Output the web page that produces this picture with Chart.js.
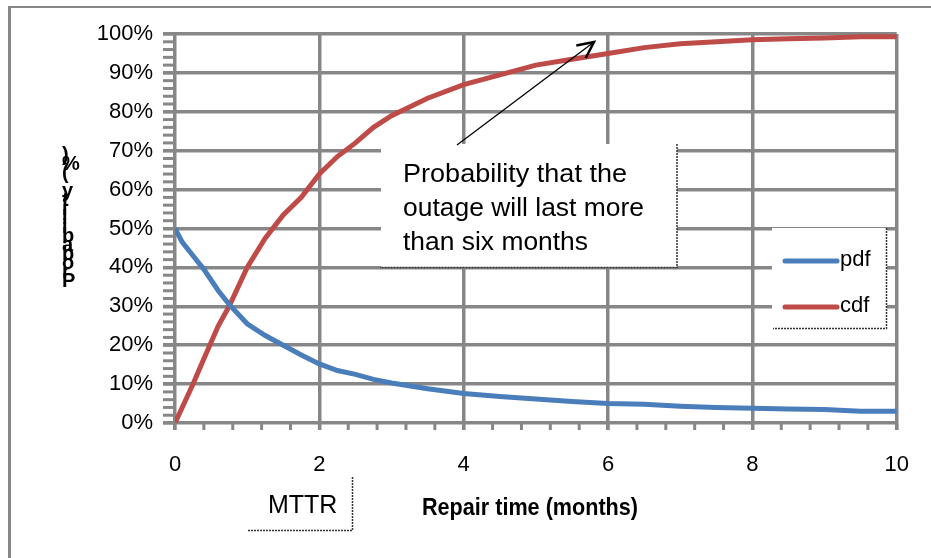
<!DOCTYPE html>
<html>
<head>
<meta charset="utf-8">
<script src="https://cdn.jsdelivr.net/npm/chart.js@4.4.1/dist/chart.umd.min.js"></script>
<style>
  html, body { margin: 0; padding: 0; background: #fff; }
  #wrap { width: 931px; height: 558px; }
</style>
</head>
<body>
<div id="wrap"><canvas id="myChart" width="931" height="558"></canvas></div>
<script>
// repair time in months, and the two curves (percent)
var months    = [0, 0.1, 0.25, 0.4, 0.6, 0.75, 1, 1.25, 1.5, 1.75, 2, 2.25, 2.5, 2.75, 3, 3.5, 4, 4.5, 5, 5.5, 6, 6.5, 7, 7.5, 8, 8.5, 9, 9.5, 10];
var pdfValues = [50, 46.5, 43, 39.5, 34, 30.5, 25.5, 22.5, 20, 17.5, 15.2, 13.5, 12.5, 11.2, 10.3, 8.8, 7.6, 6.8, 6.2, 5.5, 5.0, 4.8, 4.3, 4.0, 3.8, 3.6, 3.5, 3.0, 3.0];
var cdfValues = [0, 4, 10, 16.5, 25, 30, 40, 47.5, 53.5, 58, 64, 68.5, 72, 76, 79, 83.5, 87, 89.5, 92, 93.5, 95, 96.5, 97.5, 98, 98.5, 98.8, 99, 99.3, 99.3];
var seriesNames = ["pdf", "cdf"];
var noteLines = ["Probability that the", "outage will last more", "than six months"];
var yTitle = "Probability (%)";
var xTitle = "Repair time (months)";
var mttrText = "MTTR";

var FONT = "'Liberation Sans', Arial, sans-serif";
var GRID = "#878787";

function points(vals) {
  return months.map(function (m, i) { return { x: m, y: vals[i] }; });
}

// everything that is not a data mark: frame, minor ticks, text boxes, legend, titles
var extras = {
  id: 'extras',
  beforeDraw: function (chart) {
    var c = chart.ctx;
    c.save();
    c.strokeStyle = GRID;
    c.lineWidth = 3;
    c.beginPath(); c.moveTo(9.5, 6); c.lineTo(9.5, 558); c.stroke();
    c.lineWidth = 2;
    c.beginPath(); c.moveTo(8, 7); c.lineTo(931, 7); c.stroke();
    c.restore();
  },
  afterDatasetsDraw: function (chart) {
    var c = chart.ctx;
    var xs = chart.scales.x, ys = chart.scales.y;
    var a = chart.chartArea;
    c.save();

    // minor ticks
    c.strokeStyle = GRID;
    c.lineWidth = 3;
    for (var v = 0; v <= 100; v += 2) {
      var py = ys.getPixelForValue(v);
      c.beginPath(); c.moveTo(a.left - 12, py); c.lineTo(a.left, py); c.stroke();
    }
    for (var m = 0; m <= 10.001; m += 0.4) {
      var px = xs.getPixelForValue(m);
      c.beginPath(); c.moveTo(px, a.bottom); c.lineTo(px, a.bottom + 7); c.stroke();
    }

    // note box
    c.fillStyle = '#fff';
    c.fillRect(381, 144, 296, 123);
    c.strokeStyle = '#333';
    c.lineWidth = 1.5;
    c.setLineDash([2, 1]);
    c.beginPath(); c.moveTo(677, 144); c.lineTo(677, 267.5); c.lineTo(380, 267.5); c.stroke();
    c.setLineDash([]);
    c.fillStyle = '#000';
    c.font = '26px ' + FONT;
    c.textBaseline = 'alphabetic';
    c.textAlign = 'left';
    var targetW = [224, 241, 185];
    var baseY = [182, 216, 250];
    noteLines.forEach(function (t, i) {
      var w = c.measureText(t).width;
      c.save();
      c.translate(403, baseY[i]);
      c.scale(targetW[i] / w, 1);
      c.fillText(t, 0, 0);
      c.restore();
    });

    // arrow
    var x0 = 457, y0 = 145, x1 = 594, y1 = 42;
    c.strokeStyle = '#000';
    c.lineWidth = 1.3;
    c.beginPath(); c.moveTo(x0, y0); c.lineTo(x1, y1); c.stroke();
    var ang = Math.atan2(y1 - y0, x1 - x0);
    c.lineWidth = 2.5;
    c.beginPath();
    c.moveTo(x1 - 18 * Math.cos(ang - 0.45), y1 - 18 * Math.sin(ang - 0.45));
    c.lineTo(x1, y1);
    c.lineTo(x1 - 18 * Math.cos(ang + 0.45), y1 - 18 * Math.sin(ang + 0.45));
    c.stroke();

    // legend
    c.fillStyle = '#fff';
    c.fillRect(772, 228, 115, 100);
    c.strokeStyle = '#333';
    c.lineWidth = 1.5;
    c.setLineDash([2, 1]);
    c.beginPath(); c.moveTo(886.5, 228); c.lineTo(886.5, 328.5); c.lineTo(773, 328.5); c.stroke();
    c.setLineDash([]);
    c.font = '22px ' + FONT;
    c.textBaseline = 'middle';
    chart.data.datasets.forEach(function (ds, i) {
      var ly = 261 + i * 46;
      c.strokeStyle = ds.borderColor;
      c.lineWidth = 5;
      c.lineCap = 'round';
      c.beginPath(); c.moveTo(785, ly); c.lineTo(837, ly); c.stroke();
      c.fillStyle = '#000';
      c.fillText(ds.label, 840, ly - 1);
    });
    c.lineCap = 'butt';

    // MTTR box
    c.strokeStyle = '#333';
    c.lineWidth = 1.5;
    c.setLineDash([2, 1]);
    c.beginPath(); c.moveTo(352.5, 477); c.lineTo(352.5, 530.5); c.lineTo(247, 530.5); c.stroke();
    c.setLineDash([]);
    c.fillStyle = '#000';
    c.font = '25px ' + FONT;
    c.textBaseline = 'alphabetic';
    c.fillText(mttrText, 268, 513);

    // x title
    c.font = 'bold 24px ' + FONT;
    var tw = c.measureText(xTitle).width;
    c.save();
    c.translate(422, 515);
    c.scale(216 / tw, 1);
    c.fillText(xTitle, 0, 0);
    c.restore();

    // y title, letters stacked bottom to top
    c.font = 'bold 20px ' + FONT;
    var chars = yTitle.split('');
    chars.forEach(function (ch, i) {
      c.fillText(ch, 62, 287 - i * 9);
    });

    c.restore();
  }
};

var ctx = document.getElementById("myChart").getContext('2d');
var myChart = new Chart(ctx, {
  type: 'line',
  data: {
    datasets: [{
      label: seriesNames[0],
      data: points(pdfValues),
      borderColor: "#4A7EBB",
      borderWidth: 5,
      pointRadius: 0,
      tension: 0
    }, {
      label: seriesNames[1],
      data: points(cdfValues),
      borderColor: "#BE4B48",
      borderWidth: 5,
      pointRadius: 0,
      tension: 0
    }]
  },
  options: {
    responsive: false,
    animation: false,
    layout: { padding: { top: 34, right: 34, left: 0, bottom: 0 } },
    plugins: {
      legend: { display: false },
      tooltip: { enabled: false }
    },
    scales: {
      x: {
        type: 'linear',
        min: 0,
        max: 10,
        ticks: { stepSize: 2, color: '#000', padding: 22, font: { size: 22, family: FONT } },
        grid: { color: GRID, lineWidth: 3.5, tickLength: 7 },
        border: { display: false },
        afterFit: function (s) { s.height = 135; }
      },
      y: {
        min: 0,
        max: 100,
        ticks: {
          stepSize: 10, color: '#000', padding: 10, font: { size: 22, family: FONT },
          callback: function (v) { return v + '%'; }
        },
        grid: { color: GRID, lineWidth: 3.5, tickLength: 12 },
        border: { display: false },
        afterFit: function (s) { s.width = 175; }
      }
    }
  },
  plugins: [extras]
});
</script>
</body>
</html>
